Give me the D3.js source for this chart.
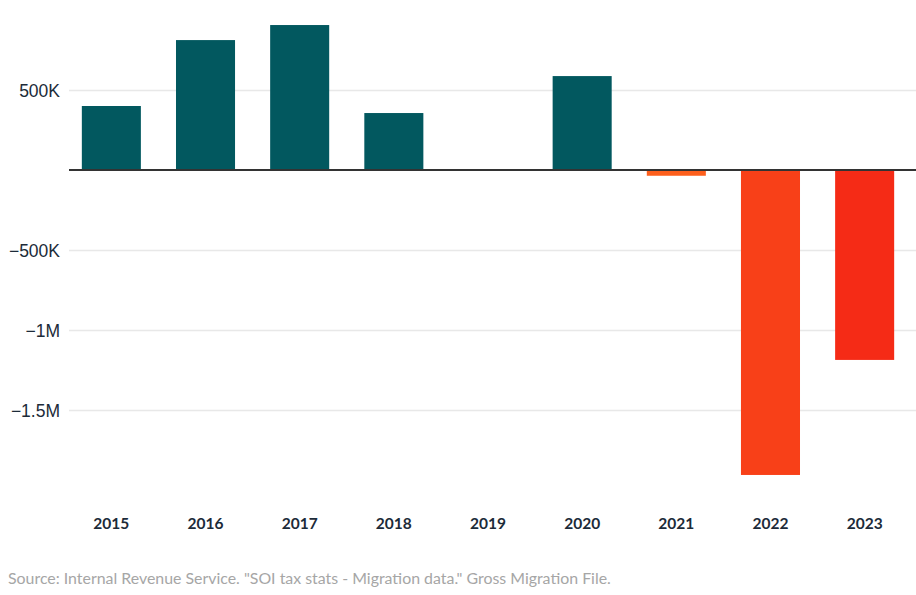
<!DOCTYPE html>
<html>
<head>
<meta charset="utf-8">
<script src="https://cdn.jsdelivr.net/npm/d3@7"></script>
<style>
  body { margin: 0; background: #fff; }
  svg { display: block; font-family: Lato, "Open Sans", sans-serif; }
</style>
</head>
<body>
<div id="chart"></div>
<script>
// net migration by year (people)
var years = ["2015", "2016", "2017", "2018", "2019", "2020", "2021", "2022", "2023"];
var values = [400000, 812000, 906000, 356000, 0, 587000, -36000, -1906000, -1187000];
var barColors = ["#02585f", "#02585f", "#02585f", "#02585f", "#02585f", "#02585f", "#fd5f1c", "#f84018", "#f52b16"];
var tickValues = [500000, -500000, -1000000, -1500000];
var source = "Source: Internal Revenue Service. \"SOI tax stats - Migration data.\" Gross Migration File.";

var width = 916, height = 595;

var svg = d3.select("#chart").append("svg")
  .attr("width", width)
  .attr("height", height);

var x = d3.scaleBand()
  .domain(years)
  .range([63, 913])
  .paddingInner(0.373)
  .paddingOuter(0.2);

var y = d3.scaleLinear()
  .domain([-2000000, 1000000])
  .range([490, 10]);

function fmt(v) {
  var s = Math.abs(v) >= 1e6 ? (Math.abs(v) / 1e6) + "M" : (Math.abs(v) / 1e3) + "K";
  return (v < 0 ? "\u2212" : "") + s;
}

// gridlines + labels
var yAxis = svg.append("g")
  .attr("transform", "translate(69,0)")
  .call(d3.axisLeft(y).tickValues(tickValues).tickSize(-(width - 69)).tickFormat(fmt));

yAxis.select(".domain").remove();
yAxis.selectAll(".tick line")
  .attr("stroke", "#e8e8e8")
  .attr("stroke-width", 1.6);
yAxis.selectAll(".tick text")
  .attr("x", -9)
  .attr("dy", "0.36em")
  .style("font-size", "17.5px")
  .style("fill", "#1c2b39");

// bars
svg.selectAll("rect.bar")
  .data(values)
  .enter().append("rect")
  .attr("class", "bar")
  .attr("x", function(d, i) { return x(years[i]); })
  .attr("width", x.bandwidth())
  .attr("y", function(d) { return y(Math.max(0, d)); })
  .attr("height", function(d) { return Math.abs(y(d) - y(0)); })
  .style("fill", function(d, i) { return barColors[i]; });

// zero line
svg.append("line")
  .attr("x1", 69)
  .attr("x2", width)
  .attr("y1", y(0))
  .attr("y2", y(0))
  .attr("stroke", "#333")
  .attr("stroke-width", 2);

// year labels
svg.selectAll("text.year")
  .data(years)
  .enter().append("text")
  .attr("class", "year")
  .attr("x", function(d) { return x(d) + x.bandwidth() / 2; })
  .attr("y", 523)
  .attr("dy", "0.36em")
  .attr("text-anchor", "middle")
  .style("font-size", "15.5px")
  .style("font-weight", "bold")
  .style("fill", "#1c2b39")
  .text(function(d) { return d; });

svg.append("text")
  .attr("x", 8)
  .attr("y", 578)
  .attr("dy", "0.36em")
  .style("font-size", "15.9px")
  .style("fill", "#a6a6a6")
  .text(source);
</script>
</body>
</html>
